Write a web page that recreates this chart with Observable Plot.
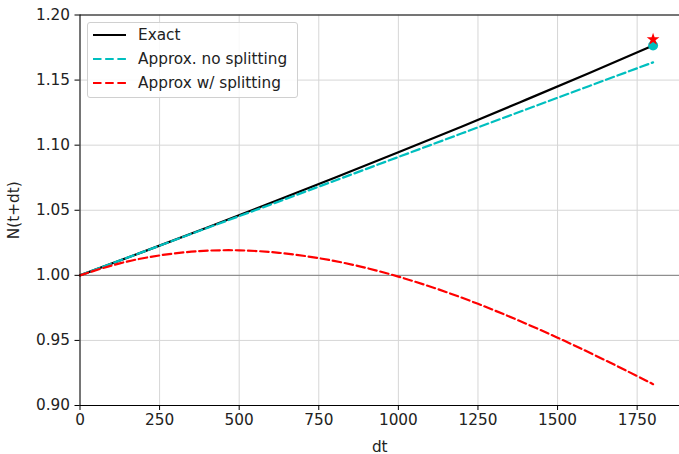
<!DOCTYPE html>
<html>
<head>
<meta charset="utf-8">
<script src="https://cdn.jsdelivr.net/npm/d3@7"></script>
<script src="https://cdn.jsdelivr.net/npm/@observablehq/plot@0.6"></script>
<style>
  html, body { margin: 0; padding: 0; background: #fff; }
  #wrap { position: relative; width: 679px; height: 454px; font-family: "DejaVu Sans", sans-serif; }
  #legend { position: absolute; left: 87px; top: 22px; width: 211px; height: 76px; box-sizing: border-box;
    border: 1px solid #d0d0d0; border-radius: 3px; background: rgba(255,255,255,0.85); font-size: 15.3px; color: #222; }
  .item { position: absolute; left: 0; height: 20px; }
  .item svg { position: absolute; left: 5px; top: 0; }
  .item span { position: absolute; left: 50px; top: 0px; line-height: 20px; white-space: nowrap; }
</style>
</head>
<body>
<div id="wrap"></div>
<script>
const dtTicks = [0, 250, 500, 750, 1000, 1250, 1500, 1750];
const yTicks = [0.90, 0.95, 1.00, 1.05, 1.10, 1.15, 1.20];

const dtExact = [0, 200, 400, 600, 800, 1000, 1200, 1400, 1600, 1800];
const nExact  = [1.0, 1.0182, 1.0368, 1.0557, 1.0749, 1.0945, 1.1144, 1.1348, 1.1554, 1.1765];

const dtNoSplit = [0, 200, 400, 600, 800, 1000, 1200, 1400, 1600, 1800];
const nNoSplit  = [1.0, 1.0182, 1.0364, 1.0545, 1.0727, 1.0909, 1.1091, 1.1273, 1.1455, 1.1636];

const dtSplit = [0, 125, 250, 375, 500, 625, 750, 875, 1000, 1125, 1250, 1375, 1500, 1625, 1750, 1800];
const nSplit  = [1.0, 1.0092, 1.0153, 1.0186, 1.0192, 1.0173, 1.0132, 1.0071, 0.9990, 0.9893, 0.9781, 0.9656, 0.9521, 0.9377, 0.9226, 0.9164];

const dotPoint = [{dt: 1800, n: 1.1765}];
const starPoint = [{dt: 1800, n: 1.1813}];

const exact = dtExact.map((d, i) => ({dt: d, n: nExact[i]}));
const noSplit = dtNoSplit.map((d, i) => ({dt: d, n: nNoSplit[i]}));
const split = dtSplit.map((d, i) => ({dt: d, n: nSplit[i]}));

const DASH = "8.5,3.7";
const legendItems = [
  {label: "Exact", color: "#000000", dash: null},
  {label: "Approx. no splitting", color: "#00bfbf", dash: DASH},
  {label: "Approx w/ splitting", color: "#ff0000", dash: DASH}
];

const chart = Plot.plot({
  width: 679,
  height: 454,
  marginLeft: 79.5,
  marginTop: 14.5,
  marginBottom: 49,
  marginRight: 0,
  style: {fontFamily: "DejaVu Sans", fontSize: "15.3px", color: "#222", background: "#fff"},
  x: {domain: [0, 1883]},
  y: {domain: [0.9, 1.2]},
  marks: [
    Plot.gridX(dtTicks, {stroke: "#d6d6d6", strokeOpacity: 1, strokeWidth: 1}),
    Plot.gridY(yTicks, {stroke: "#d6d6d6", strokeOpacity: 1, strokeWidth: 1}),
    Plot.ruleY([1.0], {stroke: "#808080", strokeWidth: 1}),
    Plot.line(exact, {x: "dt", y: "n", stroke: "#000000", strokeWidth: 2.2, curve: "natural"}),
    Plot.line(noSplit, {x: "dt", y: "n", stroke: "#00bfbf", strokeWidth: 2.2, strokeDasharray: DASH}),
    Plot.line(split, {x: "dt", y: "n", stroke: "#ff0000", strokeWidth: 2.2, strokeDasharray: DASH, curve: "natural"}),
    Plot.dot(dotPoint, {x: "dt", y: "n", fill: "#00bfbf", r: 5}),
    Plot.dot(starPoint, {x: "dt", y: "n", fill: "#ff0000", symbol: "star", r: 4}),
    Plot.ruleX([0], {stroke: "#000", strokeWidth: 1}),
    Plot.ruleY([0.9, 1.2], {stroke: "#000", strokeWidth: 1}),
    Plot.axisX({ticks: dtTicks, tickSize: 5, tickPadding: 4, tickFormat: d3.format("d"), label: "dt", labelAnchor: "center", labelArrow: "none", labelOffset: 46, stroke: "#000"}),
    Plot.axisY({ticks: yTicks, tickSize: 5, tickPadding: 5, tickFormat: d3.format(".2f"), label: "N(t+dt)", labelAnchor: "center", labelArrow: "none", labelOffset: 72, stroke: "#000"})
  ]
});

const wrap = document.getElementById("wrap");
wrap.appendChild(chart);

const legend = document.createElement("div");
legend.id = "legend";
legendItems.forEach((it, i) => {
  const row = document.createElement("div");
  row.className = "item";
  row.style.top = (2 + i * 24) + "px";
  row.innerHTML = `<svg width="36" height="20"><line x1="0" x2="33" y1="10" y2="10" stroke="${it.color}" stroke-width="2.2" ${it.dash ? `stroke-dasharray="${it.dash}"` : ""}/></svg><span>${it.label}</span>`;
  legend.appendChild(row);
});
wrap.appendChild(legend);
</script>
</body>
</html>
